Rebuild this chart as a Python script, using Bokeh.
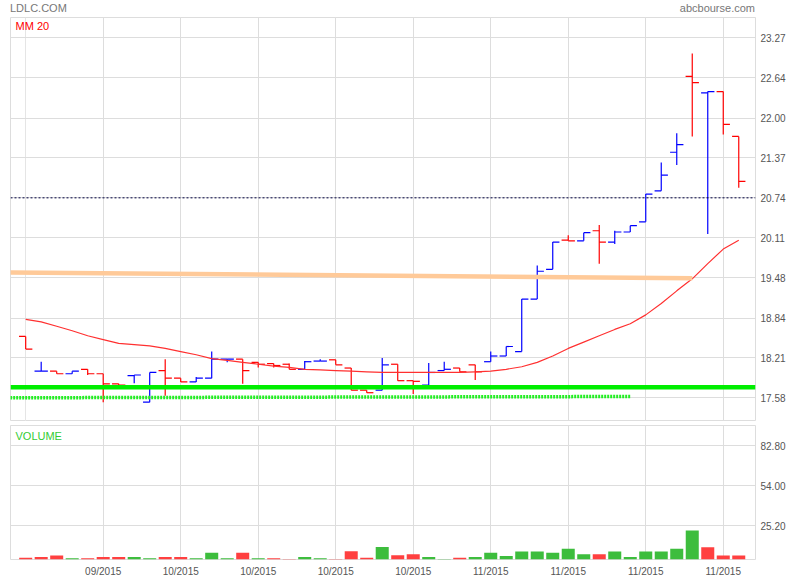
import pandas as pd
from bokeh.plotting import figure
from bokeh.models import (ColumnDataSource, Range1d, FixedTicker, Grid, Label,
                          NumeralTickFormatter, Span, Div)
from bokeh.layouts import column
from bokeh.embed import file_html
from bokeh.resources import INLINE

# ---------------- data ----------------
dates = [d.strftime("%m/%Y") for d in pd.bdate_range("2015-09-22", periods=47)]

opens = [18.55, 18.00, 18.00, 17.96, 18.03, 17.96, 17.80, 17.93, 17.51, 18.01,
         17.89, 17.83, 17.89, 18.19, 18.19, 18.14, 18.12, 18.11, 18.03, 18.16,
         18.18, 18.05, 17.70, 17.70, 18.11, 17.85, 17.78, 18.01, 18.05, 18.10,
         18.15, 18.24, 18.31, 19.14, 19.61, 20.07, 20.06, 20.22, 20.04, 20.20,
         20.36, 20.85, 21.46, 22.66, 22.40, 22.42, 21.71]
highs = [18.55, 18.15, 18.00, 18.00, 18.03, 17.96, 17.80, 17.94, 17.98, 18.19,
         17.89, 17.91, 18.31, 18.19, 18.19, 18.14, 18.12, 18.12, 18.16, 18.19,
         18.18, 18.05, 17.70, 18.21, 18.11, 17.85, 18.13, 18.15, 18.05, 18.10,
         18.31, 18.39, 19.14, 19.67, 20.04, 20.15, 20.19, 20.31, 20.22, 20.30,
         20.80, 21.30, 21.76, 23.02, 22.42, 22.42, 21.71]
lows = [18.35, 18.00, 17.96, 17.96, 17.94, 17.51, 17.78, 17.81, 17.51, 17.61,
        17.83, 17.83, 17.89, 18.14, 17.80, 18.06, 18.06, 18.03, 18.03, 18.16,
        18.10, 17.70, 17.66, 17.70, 17.85, 17.64, 17.78, 18.01, 17.99, 17.86,
        18.15, 18.24, 18.31, 19.14, 19.61, 20.06, 20.06, 19.70, 20.01, 20.20,
        20.36, 20.85, 21.26, 21.71, 20.17, 21.74, 20.90]
closes = [18.35, 18.00, 17.96, 18.00, 17.96, 17.80, 17.78, 17.94, 17.98, 17.89,
          17.83, 17.89, 18.19, 18.19, 18.01, 18.11, 18.09, 18.03, 18.15, 18.16,
          18.10, 17.70, 17.66, 18.10, 17.85, 17.84, 17.98, 18.03, 17.99, 17.99,
          18.24, 18.39, 19.14, 19.58, 20.04, 20.06, 20.19, 20.04, 20.20, 20.30,
          20.80, 21.10, 21.58, 22.56, 22.42, 21.90, 21.00]
ma20 = [18.82, 18.78, 18.71, 18.64, 18.56, 18.50, 18.44, 18.42, 18.40, 18.36,
        18.31, 18.26, 18.20, 18.17, 18.14, 18.11, 18.08, 18.06, 18.03, 18.02,
        18.01, 18.00, 17.99, 17.98, 17.98, 17.98, 17.98, 17.98, 17.98, 17.99,
        18.00, 18.03, 18.07, 18.14, 18.24, 18.36, 18.46, 18.56, 18.66, 18.75,
        18.89, 19.07, 19.27, 19.46, 19.70, 19.93, 20.07]
volume = [2.1, 2.8, 3.8, 1.9, 1.9, 2.8, 2.8, 2.8, 1.9, 2.8,
          2.8, 1.9, 5.7, 1.9, 5.7, 1.9, 1.9, 0.0, 2.8, 1.9,
          0.0, 6.9, 2.1, 10.0, 4.0, 4.7, 2.8, 0.0, 2.1, 2.8,
          5.7, 3.5, 6.7, 6.7, 5.7, 8.6, 4.7, 4.7, 6.7, 2.8,
          6.7, 6.7, 8.6, 21.8, 9.8, 3.8, 3.8]

price_ticks = [17.58, 18.21, 18.84, 19.48, 20.11, 20.74, 21.37, 22.00, 22.64, 23.27]
volume_ticks = [25.20, 54.00, 82.80]
date_tick_idx = [5, 10, 15, 20, 25, 30, 35, 40, 45]

resist_x = [-1, 43]
resist_y = [19.56, 19.47]
support_level = 17.745
support2_x = [-1, 39]
support2_y = [17.58, 17.60]
ref_level = 20.74

title_left = "LDLC.COM"
title_right = "abcbourse.com"

# ---------------- styling ----------------
FONT = "Liberation Sans"
GRID = "#dddddd"
RED = "#ff0000"
BLUE = "#0000ff"
TICK = 0.43
FW = 745

idx = list(range(len(closes)))
pcol = [RED if c < o else BLUE for o, c in zip(opens, closes)]
vup = [False] + [closes[i] >= closes[i - 1] for i in range(1, len(closes))]
vcol = ["#3dbd3d" if u else "#ff4040" for u in vup]

src = ColumnDataSource(dict(
    idx=idx, xl=[i - TICK for i in idx], xr=[i + TICK for i in idx],
    open=opens, high=highs, low=lows, close=closes, pcol=pcol,
    vol=volume, vcol=vcol, ma=ma20))

xrange = Range1d(-0.98, 47.08)


def style_common(fig):
    fig.outline_line_color = GRID
    fig.outline_line_width = 1
    fig.background_fill_color = "white"
    fig.border_fill_color = "white"
    fig.yaxis.axis_line_color = None
    fig.yaxis.major_tick_line_color = None
    fig.yaxis.minor_tick_line_color = None
    fig.yaxis.major_tick_out = 0
    fig.yaxis.major_tick_in = 0
    fig.yaxis.minor_tick_out = 0
    fig.yaxis.major_label_standoff = 5
    fig.yaxis.major_label_text_font = FONT
    fig.yaxis.major_label_text_font_size = "10px"
    fig.yaxis.major_label_text_color = "#555555"
    fig.yaxis.formatter = NumeralTickFormatter(format="0.00")
    fig.ygrid.grid_line_color = GRID
    fig.ygrid.grid_line_width = 1


# ---------------- header ----------------
header = Div(
    text=(f'<div style="position:relative;margin-left:10px;width:{FW}px;height:15px;'
          f"font-family:'Liberation Sans',Arial,sans-serif;font-size:11px;line-height:13px;color:#777777\">"
          f'<span style="position:absolute;left:0;top:2px">{title_left}</span>'
          f'<span style="position:absolute;right:0;top:2px">{title_right}</span></div>'),
    width=790, height=15, margin=(0, 0, 0, 0))

# ---------------- price panel ----------------
p = figure(frame_width=FW, frame_height=404, x_range=xrange,
           y_range=Range1d(17.205, 23.59), y_axis_location="right",
           x_axis_location=None, output_backend="svg", toolbar_location=None,
           min_border_left=10, min_border_right=40, min_border_top=2,
           min_border_bottom=0)
style_common(p)
p.yaxis.ticker = FixedTicker(ticks=price_ticks)
p.add_layout(Grid(dimension=0, ticker=FixedTicker(ticks=date_tick_idx),
                  grid_line_color=GRID, grid_line_width=1))

p.segment(x0="idx", x1="idx", y0="low", y1="high", color="pcol", line_width=1.2, source=src)
p.segment(x0="xl", x1="idx", y0="open", y1="open", color="pcol", line_width=1.2, source=src)
p.segment(x0="idx", x1="xr", y0="close", y1="close", color="pcol", line_width=1.2, source=src)

p.line("idx", "ma", source=src, line_color="#ff3030", line_width=1.2)
p.line(resist_x, resist_y, line_color="#ffca99", line_width=4.5)
p.line(support2_x, support2_y, line_color="#22ee22", line_width=3.5, line_dash="2 1")
p.add_layout(Span(location=support_level, dimension="width", line_color="#00ee00", line_width=4.5))
p.add_layout(Span(location=ref_level, dimension="width", line_color="#000040",
                  line_width=1, line_dash="2 2"))

p.add_layout(Label(x=5, y=402, x_units="screen", y_units="screen", text="MM 20",
                   text_font=FONT, text_font_size="11px", text_color=RED,
                   text_baseline="top", text_align="left"))

# ---------------- volume panel ----------------
v = figure(frame_width=FW, frame_height=134, x_range=xrange,
           y_range=Range1d(0.92, 97.4), y_axis_location="right",
           output_backend="svg", toolbar_location=None,
           min_border_left=10, min_border_right=40, min_border_top=4,
           min_border_bottom=0)
style_common(v)
v.yaxis.ticker = FixedTicker(ticks=volume_ticks)
v.xaxis.ticker = FixedTicker(ticks=date_tick_idx)
v.xaxis.major_label_overrides = {i: dates[i] for i in date_tick_idx}
v.xaxis.axis_line_color = None
v.xaxis.major_tick_line_color = None
v.xaxis.minor_tick_line_color = None
v.xaxis.major_tick_out = 0
v.xaxis.major_tick_in = 0
v.xaxis.minor_tick_out = 0
v.xaxis.major_label_standoff = 6
v.xaxis.major_label_text_font = FONT
v.xaxis.major_label_text_font_size = "10px"
v.xaxis.major_label_text_color = "#555555"
v.xgrid.grid_line_color = GRID
v.xgrid.grid_line_width = 1

v.vbar(x="idx", top="vol", bottom=0, width=0.84, fill_color="vcol", line_color=None, source=src)

v.add_layout(Label(x=5, y=130, x_units="screen", y_units="screen", text="VOLUME",
                   text_font=FONT, text_font_size="11px", text_color="#33cc33",
                   text_baseline="top", text_align="left"))

layout = column(header, p, v, spacing=0)
open("out.html", "w").write(file_html(layout, INLINE))
